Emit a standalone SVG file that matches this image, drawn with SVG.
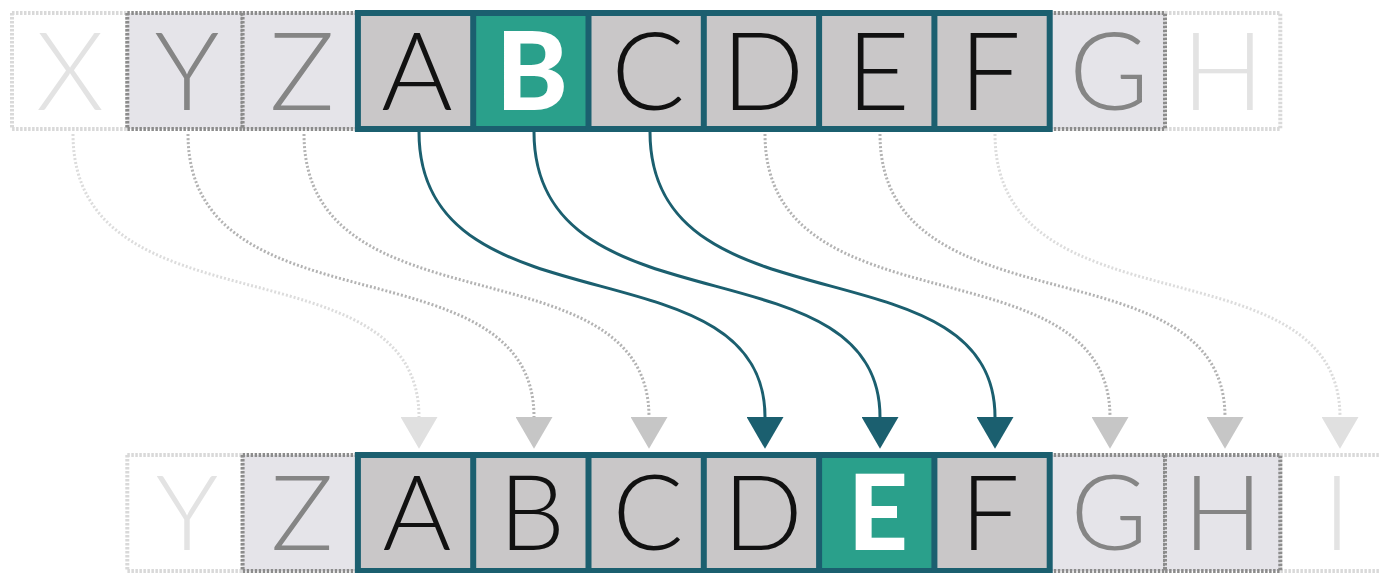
<svg xmlns="http://www.w3.org/2000/svg" width="1380" height="573" viewBox="0 0 1380 573">
<style>
.bg{fill:#ffffff}
.cf{fill:#ffffff;stroke:#d9d9d9;stroke-width:4;stroke-dasharray:2.5 1.5}
.cl{fill:#e5e4e9;stroke:#8c8c8c;stroke-width:4;stroke-dasharray:2.5 1.5}
.cg{fill:#c9c7c8}
.ch{fill:#2aa08b}
.tb{fill:none;stroke:#1b5f6f;stroke-width:6}
.tl{stroke:#1b5f6f;stroke-width:6}
.t{font-family:Lato,"Open Sans",sans-serif;font-weight:300;font-size:109px;text-anchor:middle}
.b{font-size:105px}
.tk{fill:#111111}
.tm{fill:#858585}
.tx{fill:#e3e3e3}
.tw{fill:#ffffff;font-weight:900}
.ds{fill:none;stroke:#b3b3b3;stroke-width:3;stroke-dasharray:2 2}
.dl{fill:none;stroke:#dcdcdc;stroke-width:3;stroke-dasharray:2 2}
.sl{fill:none;stroke:#1b5f6f;stroke-width:3}
</style>
<defs>
<marker id="ah-teal" markerUnits="userSpaceOnUse" markerWidth="32" markerHeight="37" viewBox="0 0 31 36" refX="0" refY="18" orient="auto"><path d="M0 0 L31 18 L0 36 Z" fill="#1b5f6f"/></marker>
<marker id="ah-gray" markerUnits="userSpaceOnUse" markerWidth="32" markerHeight="37" viewBox="0 0 31 36" refX="0" refY="18" orient="auto"><path d="M0 0 L31 18 L0 36 Z" fill="#c6c6c6"/></marker>
<marker id="ah-light" markerUnits="userSpaceOnUse" markerWidth="32" markerHeight="37" viewBox="0 0 31 36" refX="0" refY="18" orient="auto"><path d="M0 0 L31 18 L0 36 Z" fill="#e0e0e0"/></marker>
</defs>
<rect class="bg" x="0" y="0" width="1380" height="573"/>

<g id="connectors">
<path class="dl" d="M73 134 C73 336, 419 238, 419 417" marker-end="url(#ah-light)"/>
<path class="ds" d="M188 134 C188 336, 534 238, 534 417" marker-end="url(#ah-gray)"/>
<path class="ds" d="M304 134 C304 336, 649 238, 649 417" marker-end="url(#ah-gray)"/>
<path class="sl" d="M419 132 C419 336, 765 238, 765 417" marker-end="url(#ah-teal)"/>
<path class="sl" d="M534 132 C534 336, 880 238, 880 417" marker-end="url(#ah-teal)"/>
<path class="sl" d="M650 132 C650 336, 995 238, 995 417" marker-end="url(#ah-teal)"/>
<path class="ds" d="M765 134 C765 336, 1110 238, 1110 417" marker-end="url(#ah-gray)"/>
<path class="ds" d="M880 134 C880 336, 1225 238, 1225 417" marker-end="url(#ah-gray)"/>
<path class="dl" d="M995 134 C995 336, 1340 238, 1340 417" marker-end="url(#ah-light)"/>
</g>

<g id="top-row">
<g id="top-X"><rect class="cf" x="12" y="13" width="115.3" height="116"/><text class="t tx" x="70" y="110">X</text></g>
<g id="top-H"><rect class="cf" x="1165" y="13" width="115.3" height="116"/><text class="t tx" x="1223" y="110">H</text></g>
<g id="top-Y"><rect class="cl" x="127.3" y="13" width="115.3" height="116"/><text class="t tm" x="187" y="110">Y</text></g>
<g id="top-Z"><rect class="cl" x="242.6" y="13" width="115.3" height="116"/><text class="t tm" x="302" y="110">Z</text></g>
<g id="top-G"><rect class="cl" x="1049.7" y="13" width="115.3" height="116"/><text class="t tm" x="1109" y="110">G</text></g>
<g id="top-A"><rect class="cg" x="357.9" y="13" width="115.3" height="116"/><text class="t tk" x="417" y="110">A</text></g>
<g id="top-B"><rect class="ch" x="473.2" y="13" width="115.3" height="116"/><text class="t tw" x="532" y="110">B</text></g>
<g id="top-C"><rect class="cg" x="588.5" y="13" width="115.3" height="116"/><text class="t tk" x="648" y="110">C</text></g>
<g id="top-D"><rect class="cg" x="703.8" y="13" width="115.3" height="116"/><text class="t tk" x="763" y="110">D</text></g>
<g id="top-E"><rect class="cg" x="819.1" y="13" width="115.3" height="116"/><text class="t tk" x="878" y="110">E</text></g>
<g id="top-F"><rect class="cg" x="934.4" y="13" width="115.3" height="116"/><text class="t tk" x="990" y="110">F</text></g>
<g id="top-frame">
<rect class="tb" x="357.9" y="13" width="691.8" height="116"/>
<line class="tl" x1="473.2" y1="13" x2="473.2" y2="129"/>
<line class="tl" x1="588.5" y1="13" x2="588.5" y2="129"/>
<line class="tl" x1="703.8" y1="13" x2="703.8" y2="129"/>
<line class="tl" x1="819.1" y1="13" x2="819.1" y2="129"/>
<line class="tl" x1="934.4" y1="13" x2="934.4" y2="129"/>
</g>
</g>

<g id="bottom-row">
<g id="bot-Y"><rect class="cf" x="127.3" y="455" width="115.3" height="116"/><text class="t b tx" x="187" y="550">Y</text></g>
<g id="bot-I"><rect class="cf" x="1280.3" y="455" width="115.3" height="116"/><text class="t b tx" x="1337" y="550">I</text></g>
<g id="bot-Z"><rect class="cl" x="242.6" y="455" width="115.3" height="116"/><text class="t b tm" x="302" y="550">Z</text></g>
<g id="bot-G"><rect class="cl" x="1049.7" y="455" width="115.3" height="116"/><text class="t b tm" x="1109" y="550">G</text></g>
<g id="bot-H"><rect class="cl" x="1165" y="455" width="115.3" height="116"/><text class="t b tm" x="1223" y="550">H</text></g>
<g id="bot-A"><rect class="cg" x="357.9" y="455" width="115.3" height="116"/><text class="t b tk" x="417" y="550">A</text></g>
<g id="bot-B"><rect class="cg" x="473.2" y="455" width="115.3" height="116"/><text class="t b tk" x="532" y="550">B</text></g>
<g id="bot-C"><rect class="cg" x="588.5" y="455" width="115.3" height="116"/><text class="t b tk" x="648" y="550">C</text></g>
<g id="bot-D"><rect class="cg" x="703.8" y="455" width="115.3" height="116"/><text class="t b tk" x="763" y="550">D</text></g>
<g id="bot-E"><rect class="ch" x="819.1" y="455" width="115.3" height="116"/><text class="t b tw" x="878" y="550">E</text></g>
<g id="bot-F"><rect class="cg" x="934.4" y="455" width="115.3" height="116"/><text class="t b tk" x="990" y="550">F</text></g>
<g id="bot-frame">
<rect class="tb" x="357.9" y="455" width="691.8" height="116"/>
<line class="tl" x1="473.2" y1="455" x2="473.2" y2="571"/>
<line class="tl" x1="588.5" y1="455" x2="588.5" y2="571"/>
<line class="tl" x1="703.8" y1="455" x2="703.8" y2="571"/>
<line class="tl" x1="819.1" y1="455" x2="819.1" y2="571"/>
<line class="tl" x1="934.4" y1="455" x2="934.4" y2="571"/>
</g>
</g>
</svg>
